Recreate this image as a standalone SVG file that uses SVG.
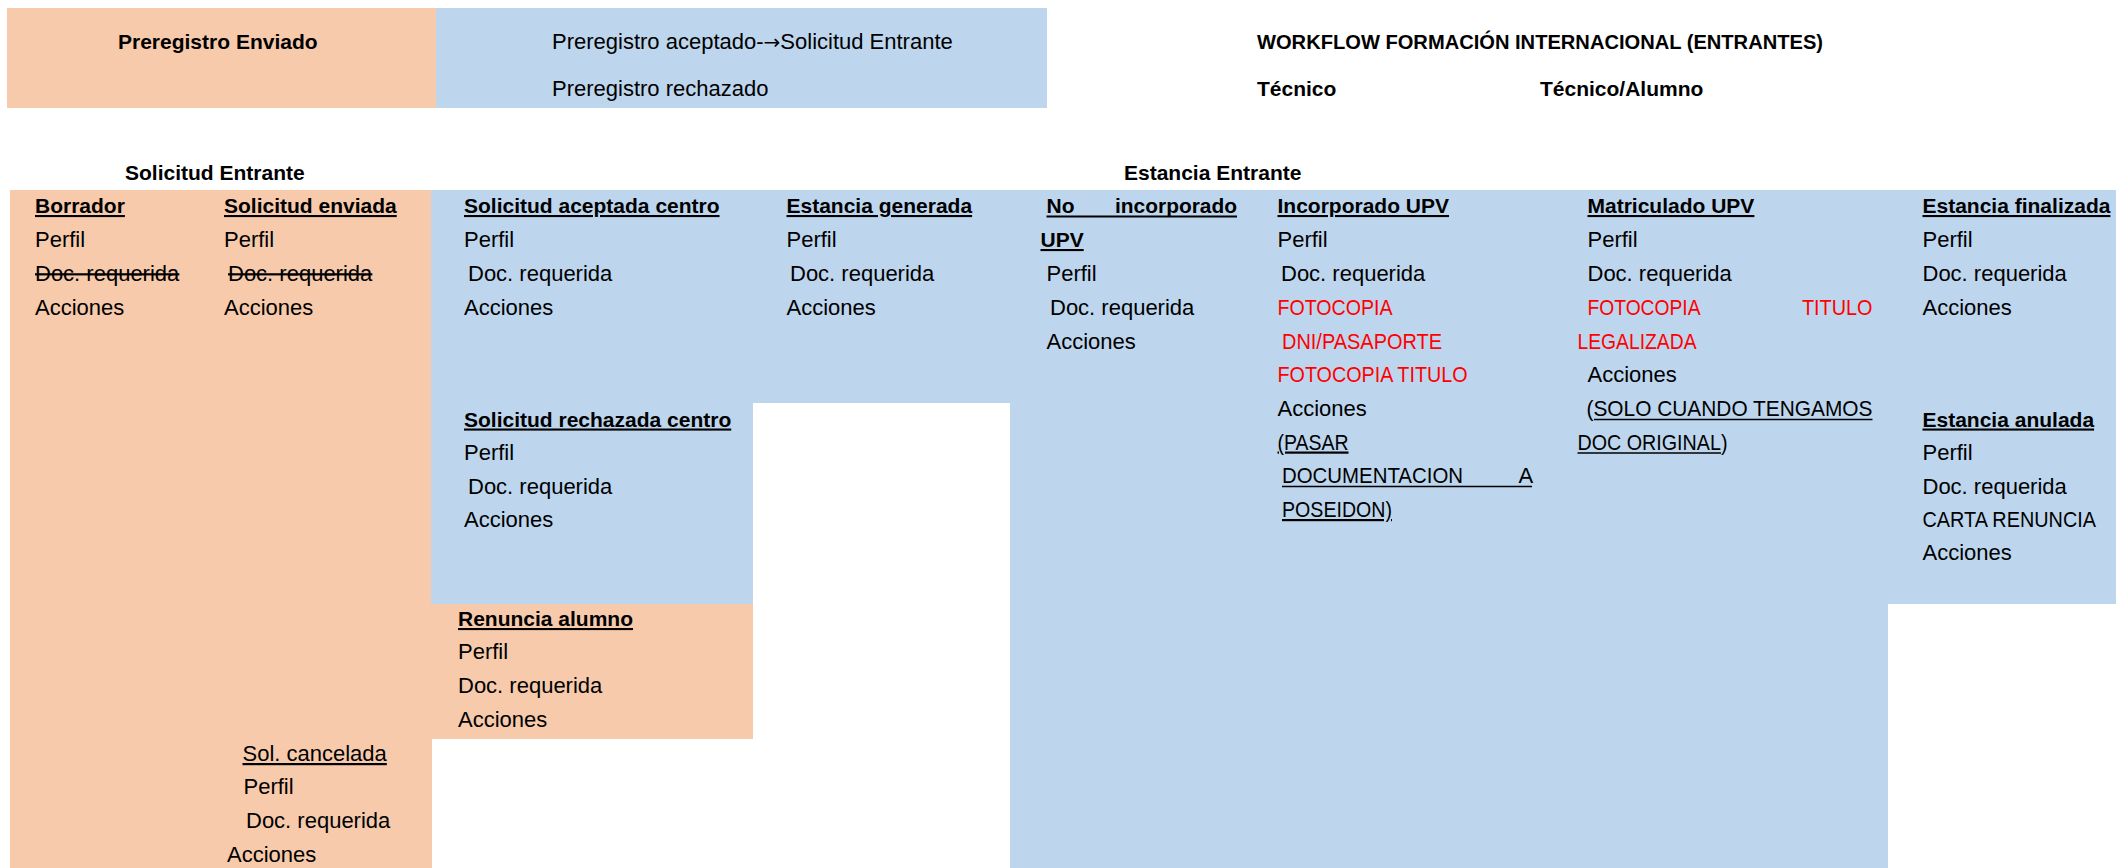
<svg xmlns="http://www.w3.org/2000/svg" width="2116" height="868" viewBox="0 0 2116 868">
<style>
text{font-family:"Liberation Sans",Arial,sans-serif;font-size:22px;fill:#000}
.b{font-weight:bold;font-size:21px}
.u{text-decoration:underline}
.s{text-decoration:line-through}
.r{fill:#FF0000}
.arr{font-family:"DejaVu Sans",sans-serif;font-size:20px}
.peach{fill:#F7CAAC}
.blue{fill:#BDD6EE}
.ul{stroke:#000;stroke-width:1.5}
.ulb{stroke:#000;stroke-width:2}
</style>
<g id="backgrounds">
<rect class="peach" x="7" y="8" width="429" height="100"/>
<rect class="blue" x="436" y="8" width="611" height="100"/>
<rect class="peach" x="10" y="190" width="422" height="678"/>
<rect class="blue" x="431" y="190" width="579" height="213"/>
<rect class="blue" x="431" y="403" width="322" height="201"/>
<rect class="peach" x="431" y="604" width="322" height="135"/>
<rect class="blue" x="1010" y="190" width="878" height="678"/>
<rect class="blue" x="1888" y="190" width="228" height="414"/>
</g>
<g id="header">
<text class="b" x="118" y="49">Preregistro Enviado</text>
<text x="552" y="49">Preregistro aceptado-<tspan class="arr">→</tspan>Solicitud Entrante</text>
<text x="552" y="96">Preregistro rechazado</text>
<text class="b" x="1257" y="49" textLength="566" lengthAdjust="spacingAndGlyphs">WORKFLOW FORMACIÓN INTERNACIONAL (ENTRANTES)</text>
<text class="b" x="1257" y="96">Técnico</text>
<text class="b" x="1540" y="96">Técnico/Alumno</text>
<text class="b" x="125" y="180">Solicitud Entrante</text>
<text class="b" x="1124" y="180">Estancia Entrante</text>
</g>
<g id="borrador">
<text class="b u" x="35" y="213">Borrador</text>
<text x="35" y="247">Perfil</text>
<text class="s" x="35" y="281">Doc. requerida</text>
<text x="35" y="315">Acciones</text>
</g>
<g id="solicitud-enviada">
<text class="b u" x="224" y="213">Solicitud enviada</text>
<text x="224" y="247">Perfil</text>
<text class="s" x="228" y="281">Doc. requerida</text>
<text x="224" y="315">Acciones</text>
</g>
<g id="solicitud-aceptada-centro">
<text class="b u" x="464" y="213">Solicitud aceptada centro</text>
<text x="464" y="247">Perfil</text>
<text x="468" y="281">Doc. requerida</text>
<text x="464" y="315">Acciones</text>
</g>
<g id="solicitud-rechazada-centro">
<text class="b u" x="464" y="426.5">Solicitud rechazada centro</text>
<text x="464" y="460">Perfil</text>
<text x="468" y="494">Doc. requerida</text>
<text x="464" y="527">Acciones</text>
</g>
<g id="renuncia-alumno">
<text class="b u" x="458" y="626">Renuncia alumno</text>
<text x="458" y="659">Perfil</text>
<text x="458" y="693">Doc. requerida</text>
<text x="458" y="727">Acciones</text>
</g>
<g id="sol-cancelada">
<text class="u" x="242.5" y="761">Sol. cancelada</text>
<text x="243.5" y="794">Perfil</text>
<text x="246" y="828">Doc. requerida</text>
<text x="227" y="862">Acciones</text>
</g>
<g id="estancia-generada">
<text class="b u" x="786.5" y="213">Estancia generada</text>
<text x="786.5" y="247">Perfil</text>
<text x="790" y="281">Doc. requerida</text>
<text x="786.5" y="315">Acciones</text>
</g>
<g id="no-incorporado-upv">
<text class="b" x="1046.5" y="213">No</text>
<text class="b" x="1115" y="213" textLength="122" lengthAdjust="spacingAndGlyphs">incorporado</text>
<line class="ulb" x1="1046.5" y1="216.5" x2="1237" y2="216.5"/>
<text class="b u" x="1040.5" y="247">UPV</text>
<text x="1046.5" y="281">Perfil</text>
<text x="1050" y="315">Doc. requerida</text>
<text x="1046.5" y="348.5">Acciones</text>
</g>
<g id="incorporado-upv">
<text class="b u" x="1277.5" y="213">Incorporado UPV</text>
<text x="1277.5" y="247">Perfil</text>
<text x="1281" y="281">Doc. requerida</text>
<text class="r" x="1277.5" y="315" textLength="115" lengthAdjust="spacingAndGlyphs">FOTOCOPIA</text>
<text class="r" x="1282" y="348.5" textLength="160" lengthAdjust="spacingAndGlyphs">DNI/PASAPORTE</text>
<text class="r" x="1277.5" y="382" textLength="190" lengthAdjust="spacingAndGlyphs">FOTOCOPIA TITULO</text>
<text x="1277.5" y="416">Acciones</text>
<text class="u" x="1277.5" y="449.5" textLength="71" lengthAdjust="spacingAndGlyphs">(PASAR</text>
<text x="1282" y="483" textLength="181" lengthAdjust="spacingAndGlyphs">DOCUMENTACION</text>
<text x="1518.5" y="483">A</text>
<line class="ul" x1="1282" y1="486.5" x2="1532" y2="486.5"/>
<text class="u" x="1282" y="517" textLength="110" lengthAdjust="spacingAndGlyphs">POSEIDON)</text>
</g>
<g id="matriculado-upv">
<text class="b u" x="1587.5" y="213">Matriculado UPV</text>
<text x="1587.5" y="247">Perfil</text>
<text x="1587.5" y="281">Doc. requerida</text>
<text class="r" x="1587.5" y="315" textLength="113" lengthAdjust="spacingAndGlyphs">FOTOCOPIA</text>
<text class="r" x="1802" y="315" textLength="70.5" lengthAdjust="spacingAndGlyphs">TITULO</text>
<text class="r" x="1577.5" y="348.5" textLength="119" lengthAdjust="spacingAndGlyphs">LEGALIZADA</text>
<text x="1587.5" y="382">Acciones</text>
<text x="1586.5" y="416" textLength="286" lengthAdjust="spacingAndGlyphs">(SOLO  CUANDO  TENGAMOS</text>
<line class="ul" x1="1594" y1="419.5" x2="1872.5" y2="419.5"/>
<text x="1577.5" y="449.5" textLength="150" lengthAdjust="spacingAndGlyphs">DOC ORIGINAL)</text>
<line class="ul" x1="1577.5" y1="453" x2="1721" y2="453"/>
</g>
<g id="estancia-finalizada">
<text class="b u" x="1922.5" y="213">Estancia finalizada</text>
<text x="1922.5" y="247">Perfil</text>
<text x="1922.5" y="281">Doc. requerida</text>
<text x="1922.5" y="315">Acciones</text>
</g>
<g id="estancia-anulada">
<text class="b u" x="1922.5" y="426.5">Estancia anulada</text>
<text x="1922.5" y="459.5">Perfil</text>
<text x="1922.5" y="493.5">Doc. requerida</text>
<text x="1922.5" y="527" textLength="173.5" lengthAdjust="spacingAndGlyphs">CARTA RENUNCIA</text>
<text x="1922.5" y="560">Acciones</text>
</g>
<g id="connectors"/>
</svg>
